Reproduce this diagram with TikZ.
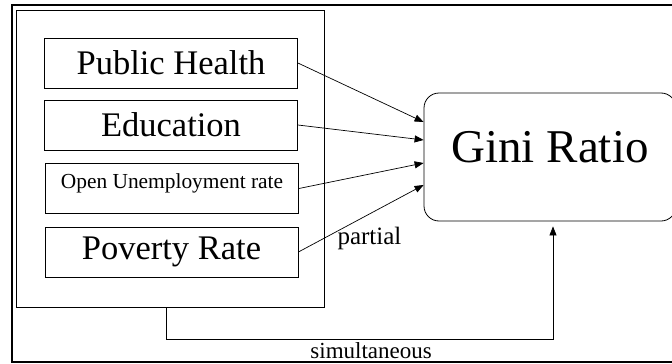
\documentclass[tikz,border=0pt]{standalone}
\usepackage{fontspec}
\setmainfont{Liberation Serif}
\usetikzlibrary{arrows.meta}

\tikzset{
	varbox/.style={draw, line width=0.8pt, minimum width=253pt, minimum height=50pt, inner sep=0pt},
	link/.style={-{Triangle[length=9pt,width=7pt]}, line width=0.7pt},
}

\begin{document}
\begin{tikzpicture}[x=1pt,y=-1pt]
	\useasboundingbox (0,0) rectangle (672,364);
	\clip (0,0) rectangle (672,364);
	\draw[line width=1.3pt] (12,5) rectangle (690,362);
	\node[draw, line width=0.8pt, minimum width=308pt, minimum height=297pt, inner sep=0pt] (group) at (170,158.5) {};
	\node[varbox, font=\fontsize{34.5}{40}\selectfont] (health) at (171,63) {Public Health};
	\node[varbox, font=\fontsize{34.5}{40}\selectfont] (edu) at (171,125) {Education};
	\node[varbox, font=\fontsize{21.4}{25}\selectfont, text depth=15pt] (unemp) at (172,188.5) {Open Unemployment rate};
	\node[varbox, font=\fontsize{34.5}{40}\selectfont] (poverty) at (171.5,252) {Poverty Rate};
	\node[draw, line width=0.8pt, rounded corners=15pt, minimum width=252pt, minimum height=128pt, inner sep=0pt, text depth=20pt, font=\fontsize{47}{54}\selectfont] (gini) at (550,157) {Gini Ratio};
	\draw[link] (health.east) -- ([yshift=35pt]gini.west);
	\draw[link] (edu.east) -- ([yshift=17pt]gini.west);
	\draw[link] (unemp.east) -- ([yshift=-6pt]gini.west);
	\draw[link] (poverty.east) -- ([yshift=-28pt]gini.west)
		node[pos=0.31, anchor=north west, inner sep=0pt, yshift=4pt, font=\fontsize{25}{30}\selectfont] {partial};
	\draw[link] ([xshift=-4pt]group.south) -- ++(0,32) -| ([xshift=3pt,yshift=-5pt]gini.south)
		node[pos=0.265, below, inner sep=2.5pt, font=\fontsize{23}{28}\selectfont] {simultaneous};
\end{tikzpicture}
\end{document}
